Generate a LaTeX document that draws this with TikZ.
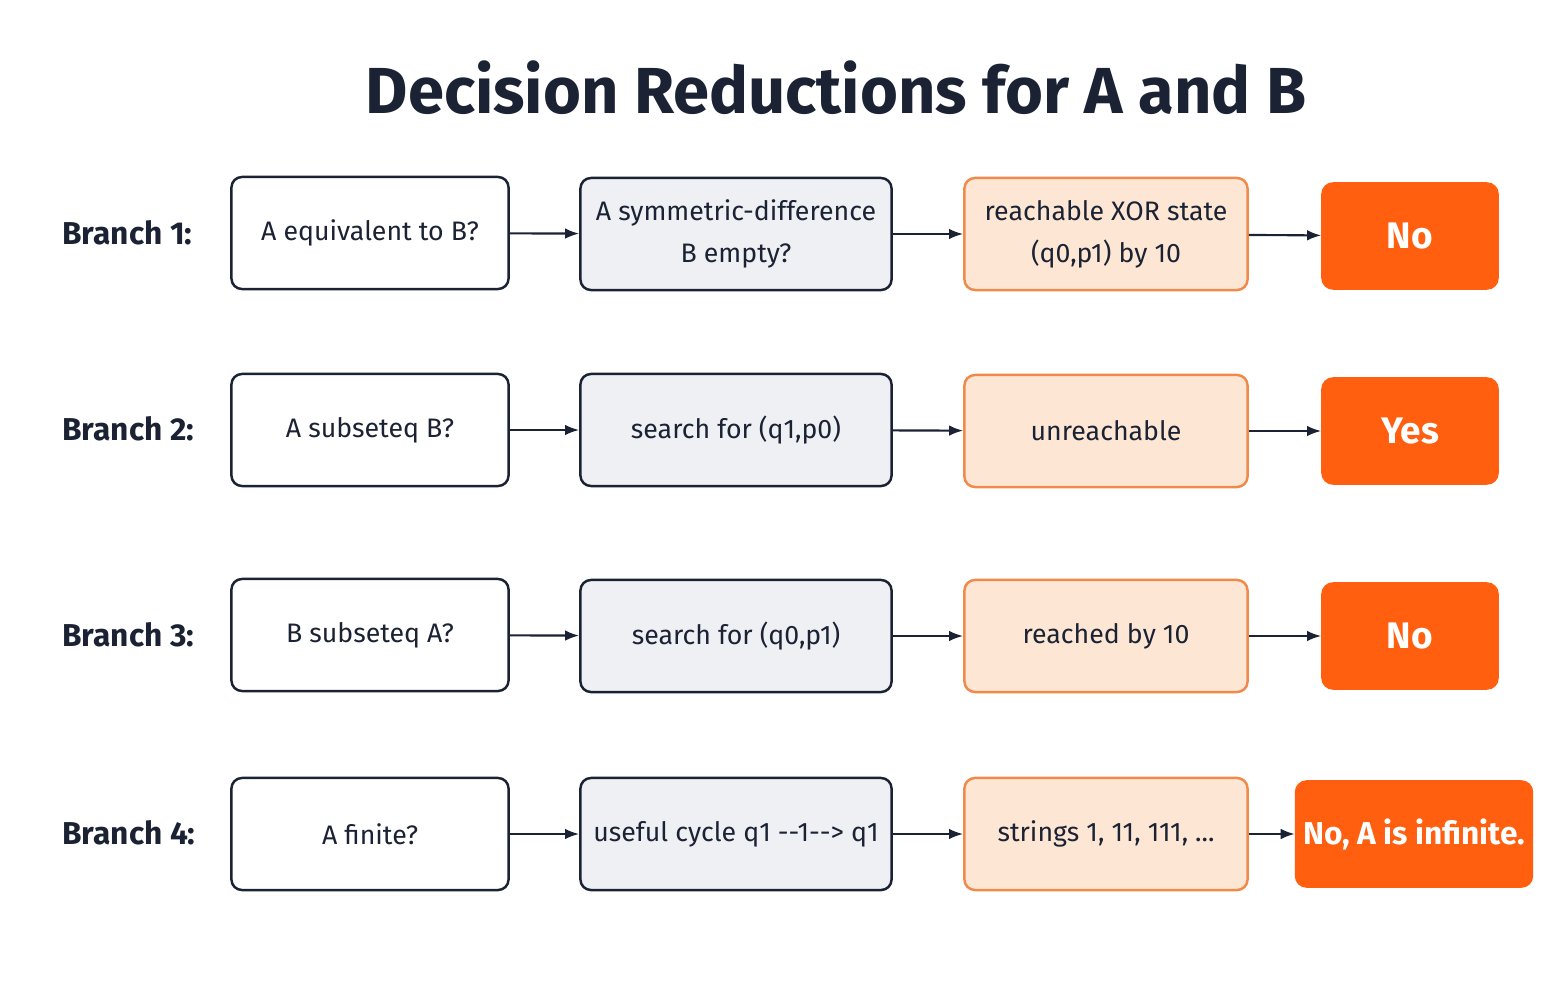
\documentclass[tikz,border=0pt]{standalone}
\usepackage{fontspec}
\setmainfont{Fira Sans}
\usetikzlibrary{positioning}
\usetikzlibrary{arrows.meta}
\definecolor{navy}{HTML}{1A2233}
\definecolor{grayfill}{HTML}{EEF0F3}
\definecolor{peach}{HTML}{FDE7D4}
\definecolor{peachline}{HTML}{F08A4B}
\definecolor{hot}{HTML}{FF5F0F}
\tikzset{
  box/.style={draw=navy, line width=0.7pt, rounded corners=3pt, inner sep=2pt, minimum height=1.12cm, align=center, text=navy, font=\fontsize{7.6}{12}\selectfont},
  ask/.style={box, fill=white, minimum width=2.77cm},
  reduce/.style={box, fill=grayfill, minimum width=3.11cm},
  found/.style={box, fill=peach, draw=peachline, minimum width=2.83cm},
  answer/.style={box, fill=hot, draw=hot, text=white, minimum width=1.75cm, minimum height=1.05cm, font=\fontsize{10.5}{13}\selectfont\bfseries},
  branch/.style={anchor=west, text=navy, font=\fontsize{9}{11}\selectfont\bfseries},
  link/.style={-{Latex[length=4pt]}, line width=0.6pt, draw=navy}
}
\begin{document}
\begin{tikzpicture}[x=0.01cm, y=-0.01cm]
  \useasboundingbox (0,0) rectangle (1563,1006);
  \node[text=navy, font=\fontsize{18.5}{22}\selectfont\bfseries] (title) at (836,88) {Decision Reductions for A and B};

  % branch 1
  \node[branch] (b1) at (50,233) {Branch 1:};
  \node[ask] (a1) at (370,233) {A equivalent to B?};
  \node[reduce] (s1) at (736,234) {A symmetric-difference\\B empty?};
  \node[found] (f1) at (1106,234) {reachable XOR state\\(q0,p1) by 10};
  \node[answer] (r1) at (1410,236) {No};

  % branch 2
  \node[branch] (b2) at (50,429) {Branch 2:};
  \node[ask] (a2) at (370,430) {A subseteq B?};
  \node[reduce] (s2) at (736,430) {search for (q1,p0)};
  \node[found] (f2) at (1106,431) {unreachable};
  \node[answer] (r2) at (1410,431) {Yes};

  % branch 3
  \node[branch] (b3) at (50,635) {Branch 3:};
  \node[ask] (a3) at (370,635) {B subseteq A?};
  \node[reduce] (s3) at (736,636) {search for (q0,p1)};
  \node[found] (f3) at (1106,636) {reached by 10};
  \node[answer] (r3) at (1410,636) {No};

  % branch 4
  \node[branch] (b4) at (50,833) {Branch 4:};
  \node[ask] (a4) at (370,834) {A finite?};
  \node[reduce] (s4) at (736,834) {useful cycle q1 -{}-1-{}-> q1};
  \node[found] (f4) at (1106,834) {strings 1, 11, 111, ...};
  \node[answer, minimum width=2.3cm, font=\fontsize{9}{11}\selectfont\bfseries] (r4) at (1414,834) {No, A is infinite.};

  \foreach \i in {1,2,3,4} {
    \draw[link] (a\i) -- (s\i);
    \draw[link] (s\i) -- (f\i);
    \draw[link] (f\i) -- (r\i);
  }
\end{tikzpicture}
\end{document}
